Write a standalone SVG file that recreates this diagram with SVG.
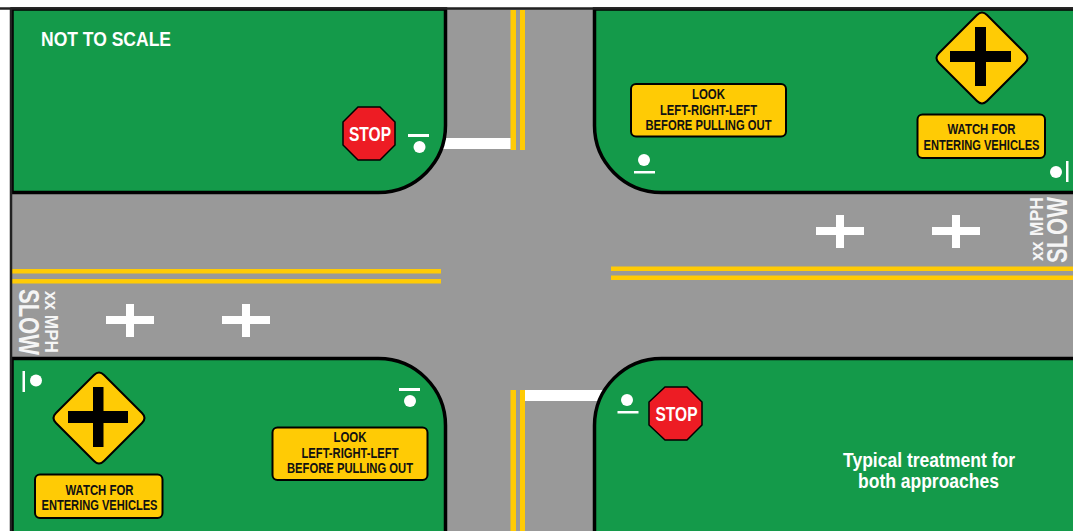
<svg xmlns="http://www.w3.org/2000/svg" width="1073" height="531" viewBox="0 0 1073 531">
<style>
.g{fill:#149a4a;stroke:#000;stroke-width:3.500}
.y{fill:#ffcb05}
.w{fill:#fff}
.sg{fill:#ffcb05;stroke:#000;stroke-width:2}
.d{fill:#ffcb05;stroke:#000;stroke-width:2;stroke-linejoin:round}
.t{font-family:"Liberation Sans",Arial,sans-serif;font-weight:700}
.b{font-size:15px;fill:#111;text-anchor:middle}
.wt{fill:#fff}
.oct{fill:#ed1c24;stroke:#000;stroke-width:1.500}
</style>
<rect width="1073" height="531" fill="#fff"/>
<rect x="11" y="9" width="1062" height="522" fill="#999"/>
<g id="connectors">
<path d="M510.500 10h5.500v140h-5.500zM520 10h5v140h-5zM510.500 390h5.500v141h-5.500zM520 390h5v141h-5z" class="y"/>
<path d="M12 269h429v4.500h-429zM12 279h429v4.500h-429zM611 266.500h462v4.500h-462zM611 275.500h462v4.500h-462z" class="y"/>
<rect x="440" y="138" width="70.500" height="11" class="w"/>
<rect x="525" y="390" width="78" height="11" class="w"/>
<path d="M816 227h48v8h-48zM836 215h8v33h-8zM932 227h48v8h-48zM952 215h8v33h-8zM106 316h48v8h-48zM126 304h8v33h-8zM222 316h48v8h-48zM242 304h8v33h-8z" class="w"/>
</g>
<g id="corner-tl"><path class="g" d="M12 9H445.500V125A67 67 0 0 1 378.500 192.500H12Z"/></g>
<g id="corner-tr"><path class="g" d="M1075 9H594.500V125A67 67 0 0 0 661.500 192.500H1075Z"/></g>
<g id="corner-bl"><path class="g" d="M12 533V358.500H378.500A67 67 0 0 1 445.500 425.500V533Z"/></g>
<g id="corner-br"><path class="g" d="M1075 533V358.500H661.500A67 67 0 0 0 594.500 425.500V533Z"/></g>
<path d="M0 8.500H1073M11 8V531" stroke="#222" stroke-width="2.500" fill="none"/>
<g id="note-scale"><text class="t wt" x="41" y="46" font-size="20" textLength="130" lengthAdjust="spacingAndGlyphs">NOT TO SCALE</text></g>
<g id="note-typical">
<text class="t wt" x="843" y="467" font-size="20" textLength="172" lengthAdjust="spacingAndGlyphs">Typical treatment for</text>
<text class="t wt" x="858" y="488" font-size="20" textLength="141" lengthAdjust="spacingAndGlyphs">both approaches</text>
</g>
<g id="stop-tl">
<path class="oct" d="M358 107H380L395 122V145L380 160H358L343 145V122Z"/>
<text class="t wt" x="349" y="141" font-size="21" textLength="42" lengthAdjust="spacingAndGlyphs">STOP</text>
</g>
<g id="stop-br">
<path class="oct" d="M665 387H687L702 402V425L687 440H665L649 425V402Z"/>
<text class="t wt" x="655.500" y="421" font-size="21" textLength="42" lengthAdjust="spacingAndGlyphs">STOP</text>
</g>
<g id="marker-tl"><rect class="w" x="408" y="134" width="21" height="3"/><circle class="w" cx="419.500" cy="147" r="6"/></g>
<g id="marker-br"><circle class="w" cx="627" cy="400" r="6"/><rect class="w" x="617.500" y="411" width="21" height="2.500"/></g>
<g id="marker-tr-look"><circle class="w" cx="644" cy="160" r="6"/><rect class="w" x="634" y="171" width="21" height="2.500"/></g>
<g id="marker-tr"><circle class="w" cx="1056" cy="172" r="6"/><rect class="w" x="1066" y="161" width="2.500" height="21"/></g>
<g id="marker-bl"><rect class="w" x="22.500" y="371" width="2.500" height="21"/><circle class="w" cx="36" cy="380.500" r="6"/></g>
<g id="marker-bl-look"><rect class="w" x="399" y="388" width="21" height="3"/><circle class="w" cx="410" cy="401" r="6"/></g>
<g id="look-tr">
<rect class="sg" x="631" y="84" width="155" height="52.500" rx="5"/>
<g class="t b"><text x="708.500" y="99" textLength="33" lengthAdjust="spacingAndGlyphs">LOOK</text>
<text x="708.500" y="114.500" textLength="97" lengthAdjust="spacingAndGlyphs">LEFT-RIGHT-LEFT</text>
<text x="708.500" y="130" textLength="126" lengthAdjust="spacingAndGlyphs">BEFORE PULLING OUT</text></g>
</g>
<g id="look-bl">
<rect class="sg" x="272.500" y="427.500" width="155" height="52.500" rx="5"/>
<g class="t b"><text x="350" y="442" textLength="33" lengthAdjust="spacingAndGlyphs">LOOK</text>
<text x="350" y="457.500" textLength="97" lengthAdjust="spacingAndGlyphs">LEFT-RIGHT-LEFT</text>
<text x="350" y="473" textLength="126" lengthAdjust="spacingAndGlyphs">BEFORE PULLING OUT</text></g>
</g>
<g id="diamond-tr">
<path class="d" d="M977 15Q982 10 987 15L1025 53Q1030 58 1025 63L987 101Q982 106 977 101L939 63Q934 58 939 53Z"/>
<path d="M975 27h11v24h25v11h-25v24h-11v-24h-25v-11h25z"/>
</g>
<g id="diamond-bl">
<path class="d" d="M94 375Q99 370 104 375L142 413Q147 418 142 423L104 461Q99 466 94 461L56 423Q51 418 56 413Z"/>
<path d="M93 387h10.500v24h24.500v12h-24.500v24h-10.500v-24h-25v-12h25z"/>
</g>
<g id="watch-tr">
<rect class="sg" x="917.500" y="114.500" width="127.500" height="43.500" rx="5"/>
<g class="t b"><text x="981.500" y="134" textLength="68" lengthAdjust="spacingAndGlyphs">WATCH FOR</text>
<text x="981.500" y="150" font-size="14.500" textLength="116" lengthAdjust="spacingAndGlyphs">ENTERING VEHICLES</text></g>
</g>
<g id="watch-bl">
<rect class="sg" x="35" y="474.500" width="127.500" height="43.500" rx="5"/>
<g class="t b"><text x="99.500" y="494.500" textLength="68" lengthAdjust="spacingAndGlyphs">WATCH FOR</text>
<text x="99.500" y="510" font-size="14.500" textLength="116" lengthAdjust="spacingAndGlyphs">ENTERING VEHICLES</text></g>
</g>
<g id="slow-right" opacity=".9">
<text class="t wt" transform="translate(1067 263) rotate(-90)" font-size="29" textLength="66" lengthAdjust="spacingAndGlyphs">SLOW</text>
<text class="t wt" transform="translate(1043 261) rotate(-90)" font-size="18" textLength="64" lengthAdjust="spacingAndGlyphs">xx MPH</text>
</g>
<g id="slow-left" opacity=".9">
<text class="t wt" transform="translate(19 289) rotate(90)" font-size="29" textLength="66" lengthAdjust="spacingAndGlyphs">SLOW</text>
<text class="t wt" transform="translate(45 291) rotate(90)" font-size="18" textLength="62" lengthAdjust="spacingAndGlyphs">xx MPH</text>
</g>
</svg>
